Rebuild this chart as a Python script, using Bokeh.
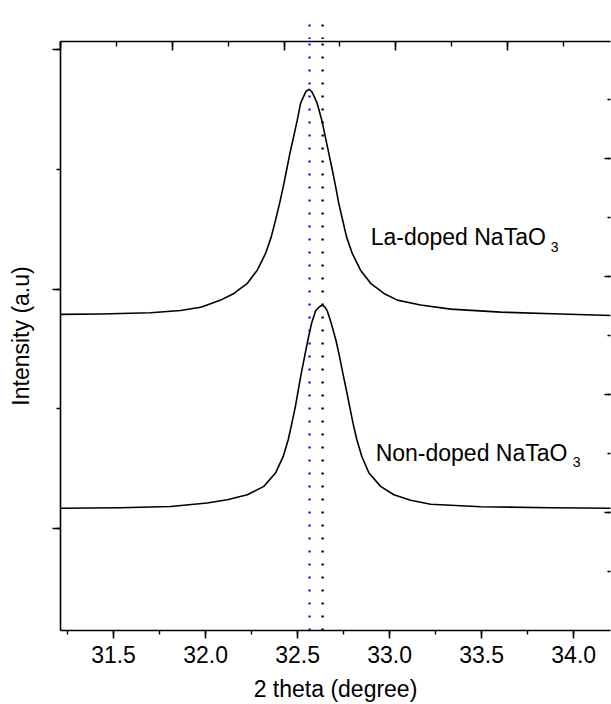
from bokeh.plotting import figure
from bokeh.layouts import column
from bokeh.models import (Range1d, LinearAxis, Label, SingleIntervalTicker,
                          PrintfTickFormatter)
from bokeh.embed import file_html
from bokeh.resources import INLINE

# ---- data ----
two_theta_la = [31.212, 31.429, 31.701, 31.864, 31.973, 32.009, 32.082, 32.154, 32.227,
                32.281, 32.326, 32.357, 32.380, 32.402, 32.422, 32.440, 32.458, 32.478,
                32.498, 32.516, 32.531, 32.546, 32.561, 32.576, 32.592, 32.607, 32.632,
                32.651, 32.670, 32.689, 32.707, 32.724, 32.745, 32.766, 32.797, 32.842,
                32.897, 32.969, 33.042, 33.168, 33.332, 33.603, 33.929, 34.207]
intensity_la = [1.789, 1.792, 1.802, 1.822, 1.848, 1.867, 1.908, 1.964, 2.048,
                2.158, 2.298, 2.436, 2.575, 2.714, 2.853, 2.992, 3.131, 3.269,
                3.408, 3.548, 3.603, 3.650, 3.667, 3.650, 3.603, 3.548, 3.408,
                3.269, 3.131, 2.992, 2.853, 2.714, 2.575, 2.436, 2.298, 2.158,
                2.048, 1.964, 1.908, 1.867, 1.833, 1.808, 1.792, 1.779]

two_theta_non = [31.212, 31.538, 31.810, 32.009, 32.118, 32.227, 32.317, 32.380, 32.422,
                 32.449, 32.469, 32.488, 32.504, 32.520, 32.538, 32.556, 32.576, 32.598,
                 32.617, 32.634, 32.649, 32.661, 32.683, 32.708, 32.728, 32.746, 32.765,
                 32.783, 32.801, 32.822, 32.849, 32.888, 32.951, 33.023, 33.114, 33.223,
                 33.495, 33.875, 34.207]
intensity_non = [0.171, 0.175, 0.185, 0.214, 0.242, 0.283, 0.353, 0.464, 0.603,
                 0.742, 0.881, 1.019, 1.158, 1.297, 1.436, 1.575, 1.714, 1.819,
                 1.850, 1.867, 1.850, 1.819, 1.714, 1.575, 1.436, 1.297, 1.158,
                 1.019, 0.881, 0.742, 0.603, 0.464, 0.353, 0.283, 0.238, 0.204,
                 0.183, 0.175, 0.171]

peak_positions = [32.565, 32.636]
peak_colors = ["#0f0fff", "black"]

label_la = "La-doped NaTaO"
label_non = "Non-doped NaTaO"
sub_text = "3"

FONT = "Liberation Sans"

x0, x1 = 31.212, 34.200
y0, y1 = -0.85, 4.067

shared_x = Range1d(x0, x1)

# ---- main plot ----
p = figure(width=611, height=665, output_backend="svg", toolbar_location=None,
           x_range=shared_x, y_range=Range1d(y0, y1),
           x_axis_location=None, y_axis_location=None,
           min_border_left=60, min_border_top=2, min_border_right=0, min_border_bottom=73)
p.grid.visible = False
p.outline_line_color = None
p.background_fill_color = "white"
p.border_fill_color = "white"

p.extra_x_ranges = {"top": Range1d(0, 4.92)}
p.extra_y_ranges = {"right": Range1d(0.003, 4.989)}


def style(ax, tin, tout, min_in, min_out):
    ax.major_tick_in = tin
    ax.major_tick_out = tout
    ax.minor_tick_in = min_in
    ax.minor_tick_out = min_out
    ax.axis_line_width = 1.6
    ax.major_tick_line_width = 1.6
    ax.minor_tick_line_width = 1.4
    ax.axis_line_color = "black"
    ax.major_tick_line_color = "black"
    ax.minor_tick_line_color = "black"
    ax.major_label_text_font = FONT
    ax.major_label_text_color = "black"
    ax.axis_label_text_font = FONT
    ax.axis_label_text_font_size = "23px"
    ax.axis_label_text_font_style = "normal"
    ax.axis_label_text_color = "black"


def hide_labels(ax):
    ax.major_label_text_font_size = "1px"
    ax.major_label_text_color = None
    ax.major_label_standoff = 0


xb = LinearAxis(axis_label="2 theta (degree)",
                ticker=SingleIntervalTicker(interval=0.5, num_minor_ticks=2),
                formatter=PrintfTickFormatter(format="%.1f"))
style(xb, 0, 8, 0, 4)
xb.major_label_text_font_size = "23px"
xb.major_label_standoff = 7
xb.axis_label_standoff = 10
p.add_layout(xb, "below")

xt = LinearAxis(x_range_name="top", ticker=SingleIntervalTicker(interval=1, num_minor_ticks=2))
style(xt, 9, 0, 5, 0)
hide_labels(xt)
p.add_layout(xt, "above")

yl = LinearAxis(axis_label="Intensity (a.u)",
                ticker=SingleIntervalTicker(interval=2, num_minor_ticks=2))
style(yl, 0, 8, 0, 4)
hide_labels(yl)
yl.axis_label_standoff = 19
p.add_layout(yl, "left")

yr = LinearAxis(y_range_name="right", ticker=SingleIntervalTicker(interval=1, num_minor_ticks=2))
style(yr, 6, 0, 3, 0)
yr.axis_line_color = None
hide_labels(yr)
p.add_layout(yr, "right")

p.line(two_theta_la, intensity_la, line_color="black", line_width=1.6, line_join="round")
p.line(two_theta_non, intensity_non, line_color="black", line_width=1.6, line_join="round")

p.segment(x0=peak_positions, y0=[y0] * 2, x1=peak_positions, y1=[y1] * 2,
          line_color=peak_colors, line_width=2.4, line_dash="2 11")

p.add_layout(Label(x=32.897, y=2.433, text=label_la, text_font=FONT,
                   text_font_size="23px", text_baseline="alphabetic", text_color="black"))
p.add_layout(Label(x=33.875, y=2.35, text=sub_text, text_font=FONT,
                   text_font_size="14px", text_baseline="alphabetic", text_color="black"))
p.add_layout(Label(x=32.924, y=0.633, text=label_non, text_font=FONT,
                   text_font_size="23px", text_baseline="alphabetic", text_color="black"))
p.add_layout(Label(x=33.995, y=0.558, text=sub_text, text_font=FONT,
                   text_font_size="14px", text_baseline="alphabetic", text_color="black"))

# ---- strip above the frame: the dotted markers continue past the top border ----
top = figure(width=611, height=39, output_backend="svg", toolbar_location=None,
             x_range=shared_x, y_range=Range1d(0, 1),
             x_axis_location=None, y_axis_location=None,
             min_border_left=60, min_border_top=0, min_border_right=1, min_border_bottom=0)
top.grid.visible = False
top.outline_line_color = None
top.background_fill_color = "white"
top.border_fill_color = "white"
top.segment(x0=peak_positions, y0=[0] * 2, x1=peak_positions, y1=[0.66] * 2,
            line_color=peak_colors, line_width=2.4, line_dash="2 11")

layout = column(top, p, spacing=0)
open("out.html", "w").write(file_html(layout, INLINE))
